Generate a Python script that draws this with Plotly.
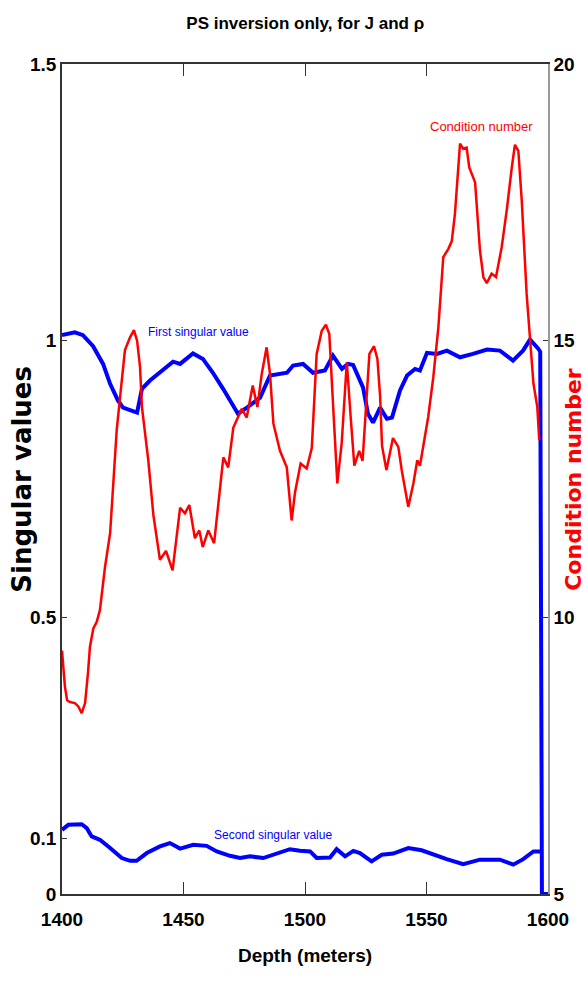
import plotly.graph_objects as go

# First singular value vs depth
sv1_depth = [1400.0, 1405.3, 1408.6, 1412.8, 1416.9, 1419.8, 1423.0, 1425.1, 1430.9, 1432.9,
             1436.2, 1440.3, 1445.7, 1448.6, 1453.9, 1458.0, 1462.1, 1466.3, 1469.1, 1472.4,
             1476.1, 1481.5, 1485.6, 1492.6, 1495.1, 1499.2, 1503.3, 1508.2, 1511.5, 1515.2,
             1517.7, 1519.8, 1523.9, 1525.9, 1528.0, 1530.9, 1533.7, 1535.8, 1539.1, 1542.0,
             1545.3, 1547.3, 1550.2, 1554.3, 1558.4, 1563.8, 1569.1, 1574.9, 1580.2, 1585.6,
             1589.7, 1592.6, 1595.9, 1596.8, 1597.5, 1600.0]
sv1 = [1.01, 1.015, 1.01, 0.99, 0.958, 0.922, 0.892, 0.879, 0.870, 0.913,
       0.928, 0.942, 0.962, 0.958, 0.977, 0.967, 0.942, 0.913, 0.892, 0.868,
       0.879, 0.897, 0.937, 0.942, 0.955, 0.958, 0.942, 0.946, 0.973, 0.949,
       0.958, 0.956, 0.915, 0.868, 0.852, 0.879, 0.859, 0.861, 0.910, 0.937,
       0.949, 0.946, 0.978, 0.976, 0.982, 0.970, 0.976, 0.984, 0.982, 0.964,
       0.982, 1.002, 0.986, 0.98, 0.0, 0.0]

# Second singular value vs depth
sv2_depth = [1400.0, 1402.6, 1408.1, 1410.2, 1412.2, 1415.6, 1419.8, 1424.6, 1428.0, 1430.7,
             1434.9, 1440.3, 1444.4, 1448.6, 1454.0, 1459.5, 1463.7, 1469.1, 1473.3, 1477.4,
             1482.8, 1489.7, 1493.8, 1497.9, 1502.1, 1504.8, 1510.3, 1513.0, 1516.5, 1519.9,
             1522.6, 1527.4, 1531.6, 1536.3, 1542.5, 1548.0, 1552.8, 1558.3, 1565.1, 1572.0,
             1580.2, 1585.7, 1589.8, 1594.0, 1596.7]
sv2 = [0.116, 0.125, 0.126, 0.119, 0.104, 0.098, 0.083, 0.065, 0.060, 0.060,
       0.074, 0.086, 0.092, 0.082, 0.089, 0.087, 0.077, 0.069, 0.065, 0.068,
       0.065, 0.075, 0.081, 0.078, 0.077, 0.065, 0.066, 0.081, 0.068, 0.078,
       0.074, 0.059, 0.071, 0.073, 0.083, 0.079, 0.071, 0.063, 0.054, 0.062,
       0.062, 0.053, 0.063, 0.077, 0.077]

# Condition number vs depth
cond_depth = [1400.0, 1401.2, 1402.1, 1403.3, 1405.3, 1406.7, 1408.1, 1409.5, 1410.7, 1411.5,
              1412.9, 1414.3, 1415.6, 1417.7, 1419.8, 1421.1, 1422.5, 1423.9, 1425.9, 1428.0,
              1429.6, 1430.9, 1432.1, 1432.9, 1434.9, 1435.5, 1437.6, 1440.3, 1442.8, 1445.5,
              1448.6, 1450.6, 1452.4, 1454.7, 1456.5, 1457.9, 1460.2, 1462.6, 1466.4, 1468.4,
              1470.5, 1474.0, 1476.0, 1478.5, 1480.4, 1482.2, 1484.2, 1485.6, 1487.0, 1489.7,
              1492.5, 1494.5, 1495.9, 1498.2, 1500.7, 1502.8, 1504.8, 1506.9, 1508.6, 1510.0,
              1511.6, 1513.3, 1515.1, 1517.2, 1518.8, 1520.3, 1522.3, 1523.7, 1526.5, 1528.4,
              1529.8, 1530.9, 1531.7, 1533.5, 1536.2, 1538.4, 1539.8, 1542.5, 1544.6, 1546.2,
              1547.3, 1548.7, 1550.7, 1552.8, 1554.9, 1556.9, 1559.0, 1560.4, 1561.7, 1563.8,
              1565.1, 1566.5, 1567.6, 1570.0, 1572.0, 1573.4, 1574.8, 1576.8, 1578.6, 1580.9,
              1583.0, 1585.1, 1586.4, 1587.8, 1589.2, 1591.2, 1592.6, 1594.0, 1595.6, 1596.4]
cond = [9.40, 8.75, 8.50, 8.47, 8.45, 8.39, 8.27, 8.45, 9.00, 9.47,
        9.80, 9.92, 10.13, 10.91, 11.52, 12.48, 13.38, 13.98, 14.83, 15.06,
        15.19, 15.00, 14.53, 13.80, 13.08, 12.84, 11.85, 11.04, 11.20, 10.85,
        11.98, 11.88, 12.03, 11.43, 11.57, 11.27, 11.57, 11.34, 12.89, 12.71,
        13.43, 13.77, 13.61, 14.19, 13.80, 14.40, 14.88, 14.40, 13.50, 13.01,
        12.71, 11.75, 12.26, 12.78, 12.69, 13.06, 14.76, 15.18, 15.29, 15.12,
        13.80, 12.42, 13.15, 14.61, 13.62, 12.74, 13.01, 12.83, 14.76, 14.90,
        14.67, 14.00, 13.10, 12.66, 13.24, 13.08, 12.66, 12.00, 12.42, 12.84,
        12.74, 13.08, 13.62, 14.34, 15.25, 16.51, 16.66, 16.80, 17.29, 18.56,
        18.47, 18.49, 18.13, 17.86, 16.63, 16.15, 16.04, 16.21, 16.15, 16.68,
        17.35, 18.13, 18.54, 18.43, 17.53, 15.85, 15.00, 14.23, 13.80, 13.20]

x_ticks = [1400, 1450, 1500, 1550, 1600]
sv_ticks = [0, 0.1, 0.5, 1, 1.5]
sv_tick_text = ["0", "0.1", "0.5", "1", "1.5"]
cond_ticks = [5, 10, 15, 20]

SANS = "Liberation Sans, Arial, sans-serif"
WIDE = "DejaVu Sans, Verdana, sans-serif"
tick_font = dict(family=SANS, size=19, color="black", weight="bold")

fig = go.Figure()
fig.add_trace(go.Scatter(x=sv1_depth, y=sv1, mode="lines",
                         line=dict(color="#0000ff", width=4), yaxis="y",
                         showlegend=False))
fig.add_trace(go.Scatter(x=sv2_depth, y=sv2, mode="lines",
                         line=dict(color="#0000ff", width=4), yaxis="y",
                         showlegend=False))
fig.add_trace(go.Scatter(x=cond_depth, y=cond, mode="lines",
                         line=dict(color="#ff0000", width=2.5), yaxis="y2",
                         showlegend=False))

fig.update_layout(
    width=587, height=987,
    margin=dict(l=62, r=39, t=64, b=93),
    paper_bgcolor="white", plot_bgcolor="white",
    title=dict(text="PS inversion only, for J and ρ", x=0.52, xanchor="center",
               y=0.977, yanchor="middle",
               font=dict(family=SANS, size=17, color="black", weight="bold")),
    xaxis=dict(range=[1400, 1600], tickvals=x_ticks, ticks="inside", ticklen=12,
               tickcolor="#333", showline=True, linecolor="#333", linewidth=1.5,
               mirror="ticks", showgrid=False, zeroline=False, automargin=False,
               tickfont=tick_font, ticklabelstandoff=7,
               title=dict(text="Depth (meters)", standoff=20,
                          font=dict(family=SANS, size=19, color="black", weight="bold"))),
    yaxis=dict(range=[0, 1.5], tickvals=sv_ticks, ticktext=sv_tick_text,
               ticks="inside", ticklen=5, tickcolor="#333", showline=True,
               linecolor="#333", linewidth=1.5, showgrid=False, zeroline=False,
               automargin=False, tickfont=tick_font),
    yaxis2=dict(range=[5, 20], tickvals=cond_ticks, overlaying="y", side="right",
                ticks="inside", ticklen=5, tickcolor="#333", showline=True,
                linecolor="#999", linewidth=1.5, showgrid=False, zeroline=False,
                automargin=False, tickfont=tick_font),
)

# Vertical axis titles, placed beside the tick labels
fig.add_annotation(x=-0.083, y=0.5, xref="paper", yref="paper", text="Singular values",
                   textangle=-90, showarrow=False, xanchor="center", yanchor="middle",
                   font=dict(family=WIDE, size=26, color="black", weight="bold"))
fig.add_annotation(x=1.051, y=0.5, xref="paper", yref="paper", text="Condition number",
                   textangle=-90, showarrow=False, xanchor="center", yanchor="middle",
                   font=dict(family=WIDE, size=22, color="#ff0000", weight="bold"))

# Curve labels
fig.add_annotation(x=1456, y=1.0, xref="x", yref="y", text="First singular value",
                   showarrow=False, yanchor="bottom",
                   font=dict(family=SANS, size=12, color="#0000ff"))
fig.add_annotation(x=1487, y=0.09, xref="x", yref="y", text="Second singular value",
                   showarrow=False, yanchor="bottom",
                   font=dict(family=SANS, size=12, color="#0000ff"))
fig.add_annotation(x=1572.5, y=18.7, xref="x", yref="y2", text="Condition number",
                   showarrow=False, yanchor="bottom",
                   font=dict(family=SANS, size=13, color="#ff0000"))

fig.write_html("out.html")
